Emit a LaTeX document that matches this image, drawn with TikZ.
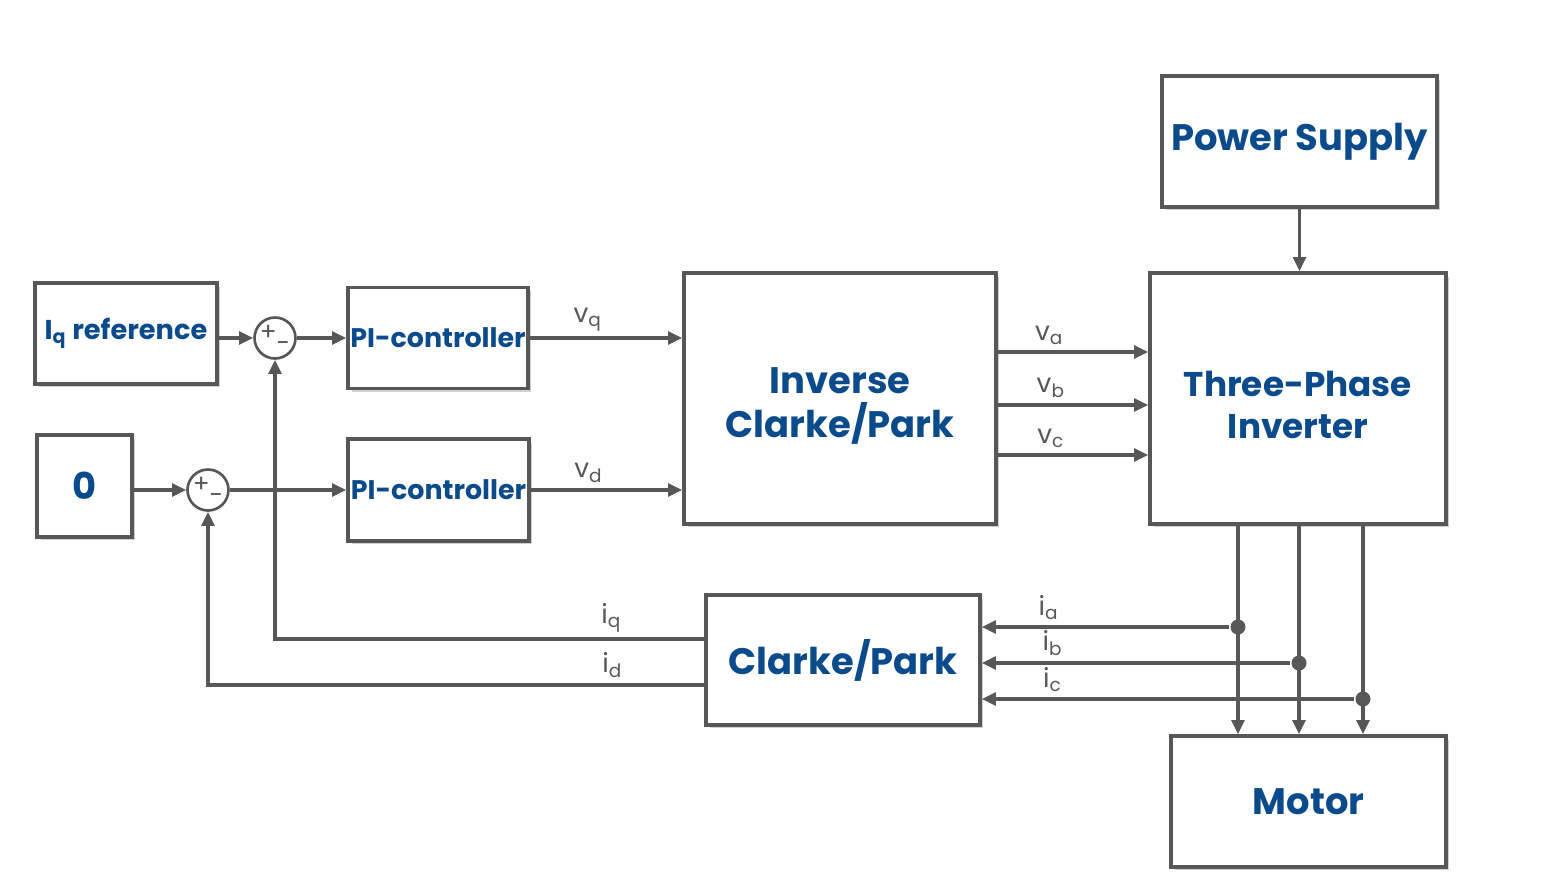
\documentclass[tikz,border=0pt]{standalone}
\usepackage{fontspec}
\setmainfont{Poppins}
\usetikzlibrary{arrows.meta,shadows}
\definecolor{wire}{HTML}{575757}
\definecolor{blocktext}{HTML}{0B4A8B}
\begin{document}
\begin{tikzpicture}[x=0.02cm,y=-0.02cm,>={Triangle[length=0.28cm,width=0.25cm]},
  color=wire,line width=2.1pt,
  block/.style={draw,fill=white,text=blocktext,align=center,inner sep=0pt,
    font=\bfseries\fontsize{21}{25}\selectfont,
    drop shadow={shadow xshift=0.07cm,shadow yshift=-0.07cm,opacity=0.3,fill=black!60}},
  smallblock/.style={block,font=\bfseries\fontsize{15.3}{18}\selectfont},
  sum/.style={draw,circle,fill=white,minimum size=0.82cm,inner sep=0pt,line width=1.5pt,
    font=\fontsize{14}{14}\selectfont},
  sig/.style={font=\fontsize{15}{16}\selectfont,inner sep=3pt},
  tap/.style={circle,fill,inner sep=0pt,minimum size=0.3cm}]
  \useasboundingbox (0,0) rectangle (1553,880);
  \node[smallblock,minimum width=3.64cm,minimum height=2.02cm,font=\bfseries\fontsize{15.5}{18}\selectfont] (iqref) at (126,333.5) {I\textsubscript{q} reference};
  \node[block,minimum width=1.9cm,minimum height=2.04cm] (zero) at (84.5,486) {0};
  \node[sum] (sum1) at (275,338) {\raisebox{0.15em}{+}\raisebox{-0.3em}{-}};
  \node[sum] (sum2) at (208,490) {\raisebox{0.15em}{+}\raisebox{-0.3em}{-}};
  \node[smallblock,minimum width=3.6cm,minimum height=2.02cm] (pi1) at (438,338) {PI-controller};
  \node[smallblock,minimum width=3.62cm,minimum height=2.04cm] (pi2) at (438.5,490) {PI-controller};
  \node[block,minimum width=6.24cm,minimum height=5.02cm] (icp) at (840,398.5) {\\[-2pt]Inverse\\Clarke/Park};
  \node[block,minimum width=5.5cm,minimum height=2.62cm] (ps) at (1299.5,141.5) {Power Supply};
  \node[block,minimum width=5.92cm,minimum height=5.02cm,font=\bfseries\fontsize{19.5}{24}\selectfont] (tpi) at (1298,398.5) {\\[-2pt]Three-Phase\\Inverter};
  \node[block,minimum width=5.48cm,minimum height=2.6cm] (cp) at (843,660) {Clarke/Park};
  \node[block,minimum width=5.5cm,minimum height=2.62cm] (motor) at (1308.5,801.5) {Motor};
  \coordinate (va) at (996,352);
  \coordinate (vb) at (996,405);
  \coordinate (vc) at (996,455);
  \coordinate (fq) at (706,639);
  \coordinate (fd) at (706,685);
  \node[tap] (ta) at (1238,627) {};
  \node[tap] (tb) at (1299,663) {};
  \node[tap] (tc) at (1363,699) {};
  % reference paths
  \draw[->] (iqref.east |- sum1) -- (sum1);
  \draw[->] (sum1) -- (pi1.west |- sum1);
  \draw[->] (zero.east |- sum2) -- (sum2);
  \draw[->] (sum2) -- (pi2.west |- sum2);
  \draw[->] (pi1.east) -- node[sig,above,pos=0.38] {v\textsubscript{q}} (pi1.east -| icp.west);
  \draw[->] (pi2.east) -- node[sig,above,pos=0.38] {v\textsubscript{d}} (pi2.east -| icp.west);
  \draw[->] (va) -- node[sig,above,pos=0.35] {v\textsubscript{a}} (va -| tpi.west);
  \draw[->] (vb) -- node[sig,above,pos=0.36] {v\textsubscript{b}} (vb -| tpi.west);
  \draw[->] (vc) -- node[sig,above,pos=0.36] {v\textsubscript{c}} (vc -| tpi.west);
  \draw[->] (ps.south) -- (ps.south |- tpi.north);
  % phases to the motor
  \draw[->] (tpi.south -| ta) -- (motor.north -| ta);
  \draw[->] (tpi.south -| tb) -- (motor.north -| tb);
  \draw[->] (tpi.south -| tc) -- (motor.north -| tc);
  \draw[->] (ta) -- node[sig,above,pos=0.73] {i\textsubscript{a}} (ta -| cp.east);
  \draw[->] (tb) -- node[sig,above,pos=0.77] {i\textsubscript{b}} (tb -| cp.east);
  \draw[->] (tc) -- node[sig,above,pos=0.81] {i\textsubscript{c}} (tc -| cp.east);
  % feedback
  \draw[->] (fq) -| node[sig,above,pos=0.11] {i\textsubscript{q}} (sum1);
  \draw[->] (fd) -| node[sig,above,pos=0.094] {i\textsubscript{d}} (sum2);
\end{tikzpicture}
\end{document}
